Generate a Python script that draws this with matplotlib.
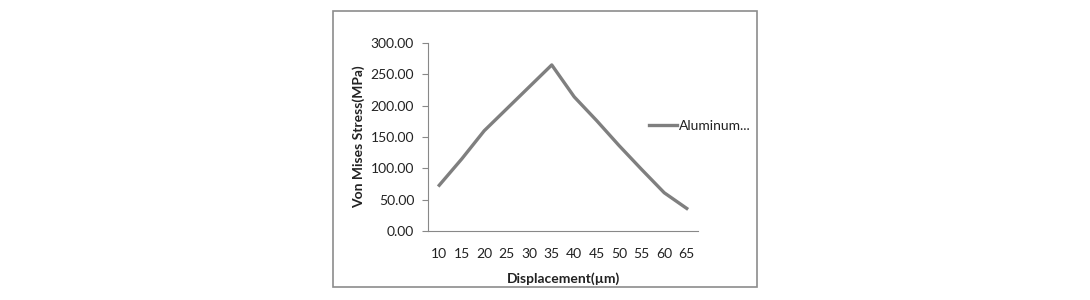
import matplotlib.pyplot as plt
import numpy as np
from matplotlib.patches import Rectangle

displacement = [10, 15, 20, 25, 30, 35, 40, 45, 50, 55, 60, 65]
stress = [73, 115, 160, 195, 230, 265, 214, 176, 136, 98, 61, 36]
yticks = [0, 50, 100, 150, 200, 250, 300]

plt.rcParams['font.family'] = ['Lato', 'DejaVu Sans']

fig = plt.figure(figsize=(10.9, 3.0), dpi=100)
ax = fig.add_axes([428/1090, 1-231/300, 270/1090, 188/300])

x = np.arange(len(displacement))
ax.plot(x, stress, color='#7f7f7f', lw=2.4, label='Aluminum...')

ax.set_xlim(-0.5, len(displacement)-0.5)
ax.set_ylim(0, 300)
ax.set_xticks(x)
ax.set_xticklabels([str(d) for d in displacement])
ax.set_yticks(yticks)
ax.set_yticklabels(['%.2f' % v for v in yticks])
ax.tick_params(axis='x', length=0, pad=12, labelsize=10, colors='#222222')
ax.tick_params(axis='y', length=4, width=0.8, color='#888888', pad=6, labelsize=10, labelcolor='#222222')

for s in ['top', 'right']:
    ax.spines[s].set_visible(False)
for s in ['left', 'bottom']:
    ax.spines[s].set_color('#888888')
    ax.spines[s].set_linewidth(0.8)

ax.set_ylabel('Von Mises Stress(MPa)', fontweight='bold', fontsize=10, labelpad=4, color='#222222')
ax.set_xlabel('Displacement(\u00b5m)', fontweight='bold', fontsize=10, labelpad=9, color='#222222')

ax.legend(loc='center left', bbox_to_anchor=(649/1090, 1-126/300), bbox_transform=fig.transFigure,
          frameon=False, fontsize=10, borderpad=0, borderaxespad=0,
          handlelength=2.0, handletextpad=0.15, labelcolor='#222222')

# outer chart frame
fig.patches.append(Rectangle((333/1090, 1-287/300), 424/1090, 276/300, transform=fig.transFigure,
                             fill=False, edgecolor='#8c8c8c', lw=1.2))

fig.savefig('out.png', dpi=100)
